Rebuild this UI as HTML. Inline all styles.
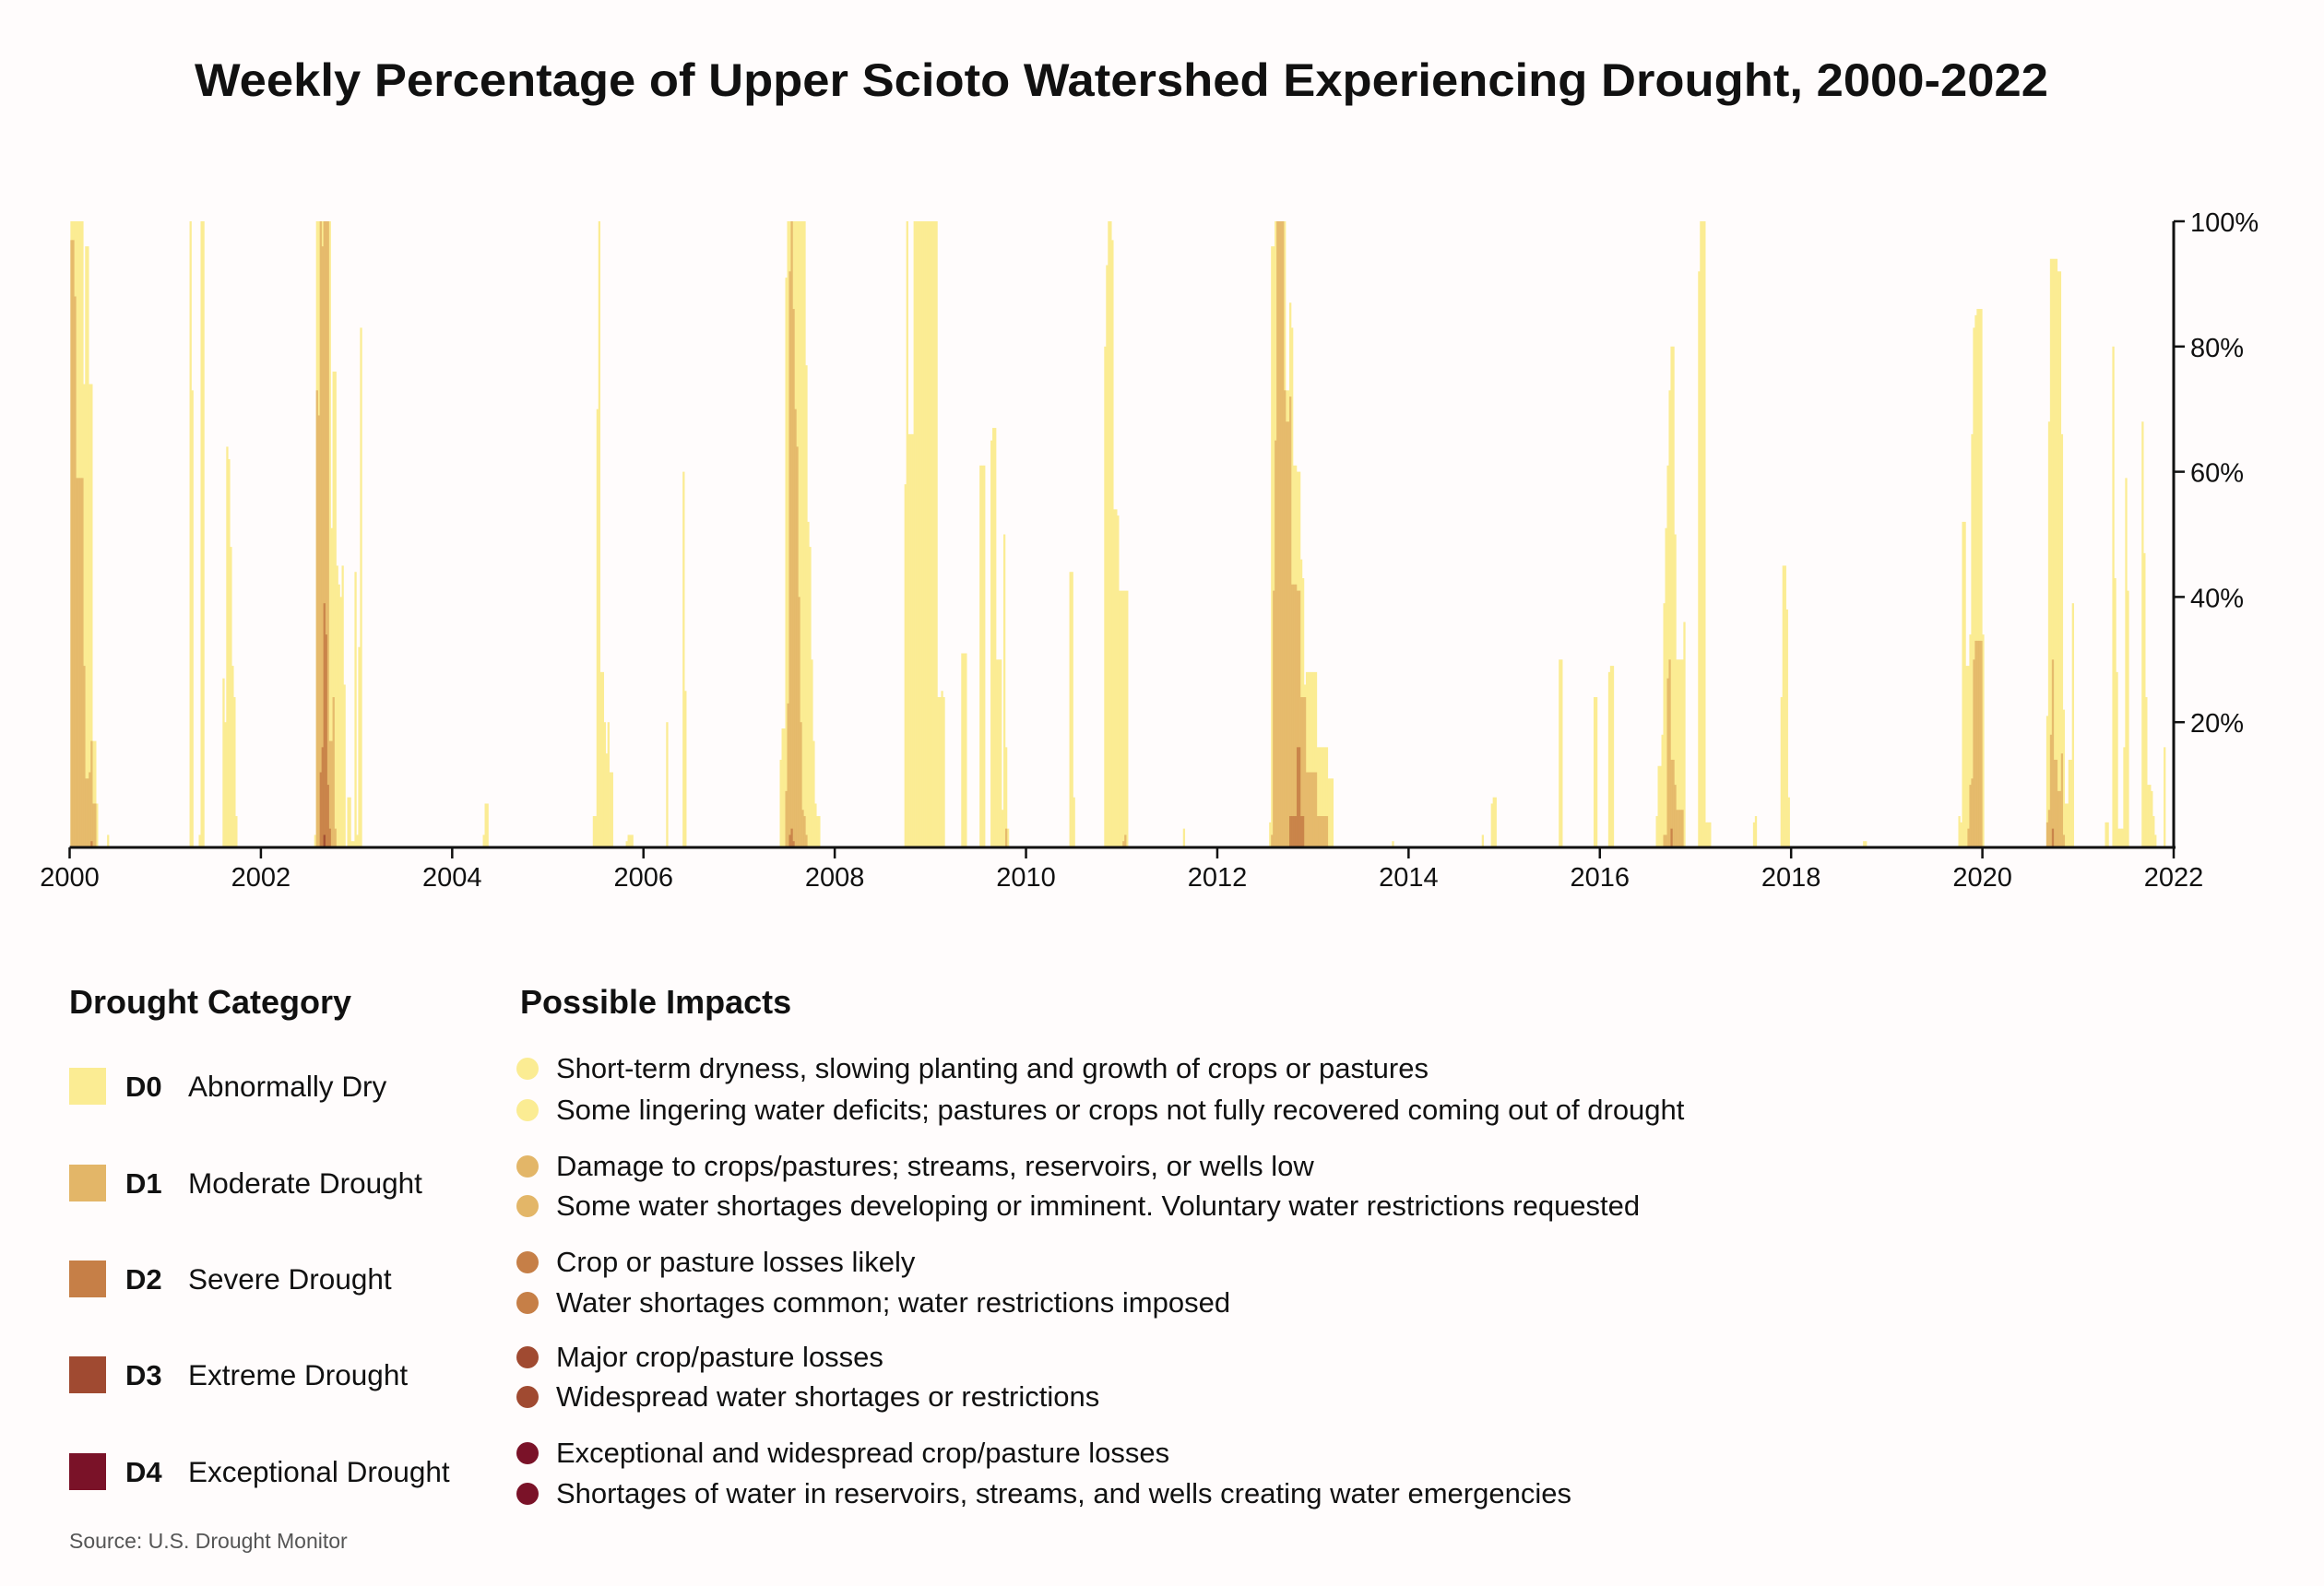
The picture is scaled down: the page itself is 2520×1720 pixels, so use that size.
<!DOCTYPE html>
<html><head><meta charset="utf-8"><style>
html,body{margin:0;padding:0;background:#fffcfc;}
svg{display:block;font-family:"Liberation Sans",sans-serif;}
</style></head><body>
<svg id="chart" width="2520" height="1720" viewBox="0 0 2520 1720" xmlns="http://www.w3.org/2000/svg">
<rect x="0" y="0" width="2520" height="1720" fill="#fffcfc"/>
<text x="1216" y="104" text-anchor="middle" font-size="50" font-weight="bold" fill="#111" textLength="2010" lengthAdjust="spacingAndGlyphs">Weekly Percentage of Upper Scioto Watershed Experiencing Drought, 2000-2022</text>
<g id="bars"></g>
<g id="axes"></g>

<text x="75" y="1099" font-size="36" font-weight="bold" fill="#111">Drought Category</text>
<text x="564" y="1099" font-size="36" font-weight="bold" fill="#111">Possible Impacts</text>
<g id="legend"></g>
<text x="75" y="1679" font-size="23" fill="#555">Source: U.S. Drought Monitor</text>
</svg>
<script>
// Weekly series: [startWeek, [values...]] ; week 0 = first week of 2000
const d0 = [
 [0,[100,100,100,100,100,100,100,74,96,96,74,74,17,17,7]],[20,[2]],
 [65,[100,73]],[70,[2,100,100]],
 [83,[27,20,64,62,48,29,24,5]],
 [133,[2,100,100,100,100,100,100,100,100,51,76,76,45,42,40,45,26,0,8,8,1,1,44,2,32,83]],
 [225,[2,7,7]],
 [285,[5,5,70,100,28,28,20,15,20,12,12]],[303,[1,2,2,2]],
 [325,[20]],[334,[60,25]],
 [387,[14,19,19,91,100,100,100,100,100,100,100,100,100,100,77,52,48,30,17,7,5,5]],
 [455,[58,100,66,66,66,100,100,100,100,100,100,100,100,100,100,100,100,100,24,24,25,24]],
 [486,[31,31,31]],[496,[61,61,61]],[502,[65,67,67,30,30,30,6,50,16,3]],
 [545,[44,44,8]],
 [564,[80,93,100,100,97,54,54,53,41,41,41,41,41]],
 [607,[3]],
 [654,[4,96,96,100,100,100,100,100,100,73,73,87,83,61,61,60,60,46,43,26,28,28,28,28,28,28,16,16,16,16,16,16,11,11,11]],
 [721,[1]],[770,[2]],[775,[7,8,8]],
 [812,[30,30]],[831,[24,24]],[839,[28,29,29]],
 [865,[5,13,13,18,39,51,61,73,80,80,50,30,30,30,30,36]],[888,[92,100,100,100,4,4,4]],
 [918,[4,5]],[933,[24,45,45,38,8]],[978,[1,1]],
 [1030,[5,4,52,52,29,29,34,66,83,85,86,86,86,34]],
 [1078,[21,68,94,94,94,94,92,92,66,22,7,7,14,14,39]],
 [1110,[4,4]],[1114,[80,43,28,3,3,3,16,59,41]],
 [1130,[68,47,24,10,10,9,5,2]],[1142,[16]]
];
const d1 = [
 [0,[97,97,88,59,59,59,59,29,11,11,12,17,7,7]],
 [134,[73,69,100,96,100,100,100,17,17,24,3]],
 [390,[9,23,92,100,86,70,64,40,20,6,5,2]],
 [510,[3]],[574,[1,2]],
 [655,[2,41,65,100,100,100,100,73,68,68,72,42,42,42,41,41,24,24,24,12,12,12,12,12,12,5,5,5,5,5,5]],
 [869,[2,2,27,30,14,14,10,6,6,6,6]],
 [1035,[3,10,11,30,33,33,33,33]],
 [1078,[4,6,18,30,14,14,9,9,15,2]]
];
const d2 = [
 [11,[1]],
 [136,[12,16,39,34,10,3]],
 [392,[2,3,1]],
 [665,[5,5,5,5,16,16,5,5]],
 [873,[3]],[1081,[3]]
];
const d3 = [[138,[2]]];
const yTicks = [20,40,60,80,100];
const xTicks = [2000,2002,2004,2006,2008,2010,2012,2014,2016,2018,2020,2022];
const categories = ["D0","D1","D2","D3","D4"];
const categoryNames = ["Abnormally Dry","Moderate Drought","Severe Drought","Extreme Drought","Exceptional Drought"];
const impacts = [
 ["Short-term dryness, slowing planting and growth of crops or pastures","Some lingering water deficits; pastures or crops not fully recovered coming out of drought"],
 ["Damage to crops/pastures; streams, reservoirs, or wells low","Some water shortages developing or imminent. Voluntary water restrictions requested"],
 ["Crop or pasture losses likely","Water shortages common; water restrictions imposed"],
 ["Major crop/pasture losses","Widespread water shortages or restrictions"],
 ["Exceptional and widespread crop/pasture losses","Shortages of water in reservoirs, streams, and wells creating water emergencies"]
];
const colors = ["#fbec93","#e3b668","#c67f47","#a04a31","#7a1228"];

const NS="http://www.w3.org/2000/svg";
const X0=75.5, X1=2357, Y0=919, Y1=240;
function xScale(year){return X0+(year-2000)/22*(X1-X0);}
function yScale(v){return Y0-(v/100)*(Y0-Y1);}
function weekYear(w){return 2000+(w*7+3)/365.25;}
function mk(tag,attrs,parent){const e=document.createElementNS(NS,tag);for(const k in attrs)e.setAttribute(k,attrs[k]);parent.appendChild(e);return e;}

const barsG=document.getElementById('bars');
const bw=xScale(2000+7/365.25)-xScale(2000)+0.3;
[d0,d1,d2,d3].forEach((series,ci)=>{
  series.forEach(run=>{
    run[1].forEach((v,i)=>{
      if(v<=0)return;
      const r=mk('rect',{x:xScale(weekYear(run[0]+i)),y:yScale(v),width:bw,height:Y0-yScale(v),fill:colors[ci],'fill-opacity':ci===0?1:0.9},barsG);
      
      
    });
  });
});

const ax=document.getElementById('axes');
const xl=mk('line',{x1:X0,x2:X1+2,y1:Y0,y2:Y0,stroke:'#111','stroke-width':3},ax);


const yl=mk('line',{x1:X1,x2:X1,y1:Y1,y2:Y0,stroke:'#111','stroke-width':3},ax);


xTicks.forEach(t=>{
  const x=xScale(t);
  const tk=mk('line',{x1:x,x2:x,y1:Y0,y2:Y0+12,stroke:'#111','stroke-width':2.5},ax);
  
  
  const lb=mk('text',{x:x,y:Y0+42,'text-anchor':'middle','font-size':29,fill:'#111'},ax);
  lb.textContent=t;
  
  
});
yTicks.forEach(t=>{
  const y=yScale(t);
  const tk=mk('line',{x1:X1,x2:X1+12,y1:y,y2:y,stroke:'#111','stroke-width':2.5},ax);
  
  
  const lb=mk('text',{x:X1+18,y:y+11,'font-size':29,fill:'#111'},ax);
  lb.textContent=t+'%';
  
  
});

const lg=document.getElementById('legend');
const rowY=[1178,1283,1387,1491,1596];
const impY=[[1159,1204],[1265,1308],[1369,1413],[1472,1515],[1576,1620]];
categories.forEach((c,i)=>{
  const sw=mk('rect',{x:75,y:rowY[i]-20,width:40,height:40,fill:colors[i]},lg);
  
  
  const code=mk('text',{x:136,y:rowY[i]+11,'font-size':31,'font-weight':'bold',fill:'#111'},lg);
  code.textContent=c;
  
  
  const nm=mk('text',{x:204,y:rowY[i]+11,'font-size':31.5,fill:'#111'},lg);
  nm.textContent=categoryNames[i];
  
  
  impacts[i].forEach((txt,j)=>{
    const cy=impY[i][j];
    const dot=mk('circle',{cx:572,cy:cy,r:12,fill:colors[i]},lg);
    
    
    const t=mk('text',{x:603,y:cy+10,'font-size':31,fill:'#111'},lg);
    t.textContent=txt;
    
    
  });
});
</script>
</body></html>
